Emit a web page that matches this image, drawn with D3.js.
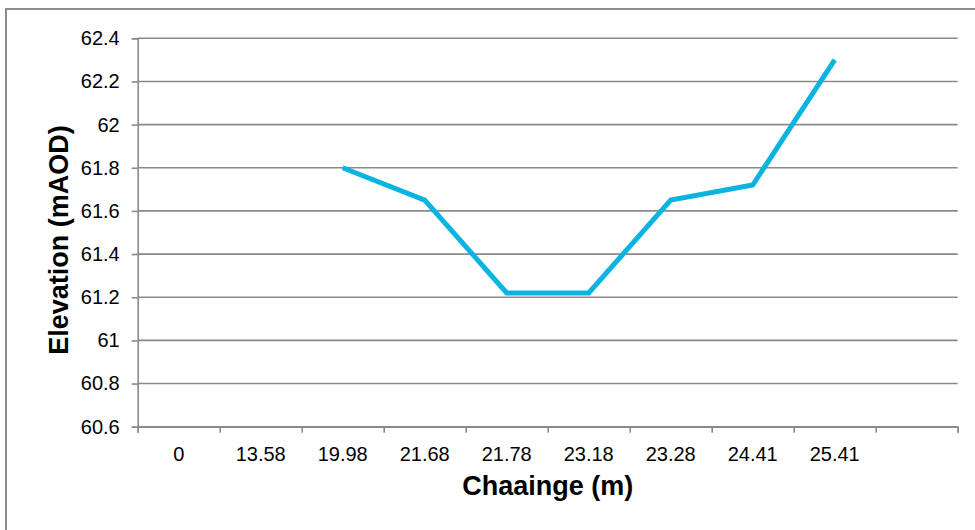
<!DOCTYPE html>
<html>
<head>
<meta charset="utf-8">
<script src="https://cdn.jsdelivr.net/npm/d3@7"></script>
<style>
  html, body { margin: 0; padding: 0; background: #fff; }
  svg { display: block; }
  text { font-family: "Liberation Sans", Arial, sans-serif; fill: #000; }
</style>
</head>
<body>
<svg id="chart" width="975" height="530"></svg>
<script>
// Cross-section survey: chainage labels and measured bed elevations
const chainages = ["0", "13.58", "19.98", "21.68", "21.78", "23.18", "23.28", "24.41", "25.41", ""];
const elevations = [null, null, 61.8, 61.65, 61.22, 61.22, 61.65, 61.72, 62.3, null];
const yTicks = [60.6, 60.8, 61, 61.2, 61.4, 61.6, 61.8, 62, 62.2, 62.4];

const svg = d3.select("#chart");
const plot = { left: 137.7, right: 957.7, top: 38.3, bottom: 426.7 };
const gridColor = "#8a8a8a";

// outer chart frame
svg.append("rect")
  .attr("x", 6).attr("y", 9)
  .attr("width", 1100).attr("height", 700)
  .attr("fill", "#fff")
  .attr("stroke", "#8c8c8c")
  .attr("stroke-width", 2);

const idx = d3.range(chainages.length);
const x = d3.scaleBand().domain(idx).range([plot.left, plot.right]).padding(0);
const xEdge = d3.scaleLinear().domain([0, chainages.length]).range([plot.left, plot.right]);
const y = d3.scaleLinear().domain([yTicks[0], yTicks[yTicks.length - 1]]).range([plot.bottom, plot.top]);

// horizontal gridlines
svg.append("g")
  .selectAll("line")
  .data(yTicks)
  .join("line")
  .attr("x1", plot.left).attr("x2", plot.right)
  .attr("y1", d => y(d)).attr("y2", d => y(d))
  .attr("stroke", gridColor)
  .attr("stroke-width", 1.6);

// y axis
const yAxis = svg.append("g")
  .attr("transform", `translate(${plot.left},0)`)
  .call(d3.axisLeft(y).tickValues(yTicks).tickSize(6).tickPadding(12)
    .tickFormat(d => String(+d.toFixed(1))));
yAxis.select(".domain").attr("stroke", gridColor).attr("stroke-width", 1.6);
yAxis.selectAll(".tick line").attr("stroke", gridColor).attr("stroke-width", 1.6);
yAxis.selectAll(".tick text")
  .attr("font-size", 20)
  .attr("font-family", "Liberation Sans, Arial, sans-serif")
  .attr("fill", "#000");

// x axis: ticks on category boundaries
const xTickAxis = svg.append("g")
  .attr("transform", `translate(0,${plot.bottom})`)
  .call(d3.axisBottom(xEdge).tickValues(d3.range(chainages.length + 1)).tickSize(6).tickFormat(""));
xTickAxis.select(".domain").attr("stroke", gridColor).attr("stroke-width", 1.6);
xTickAxis.selectAll(".tick line").attr("stroke", gridColor).attr("stroke-width", 1.6);

// x axis: category labels centred in each band
const xLabelAxis = svg.append("g")
  .attr("transform", `translate(0,${plot.bottom})`)
  .call(d3.axisBottom(x).tickSize(0).tickPadding(20).tickFormat(i => chainages[i]));
xLabelAxis.select(".domain").remove();
xLabelAxis.selectAll(".tick text")
  .attr("font-size", 20)
  .attr("font-family", "Liberation Sans, Arial, sans-serif")
  .attr("fill", "#000");

// elevation profile
const line = d3.line()
  .defined(d => d != null)
  .x((d, i) => x(i) + x.bandwidth() / 2)
  .y(d => y(d));

svg.append("path")
  .datum(elevations)
  .attr("d", line)
  .attr("fill", "none")
  .attr("stroke", "#0bb3e1")
  .attr("stroke-width", 5)
  .attr("stroke-linejoin", "miter");

// axis titles
svg.append("text")
  .attr("x", (plot.left + plot.right) / 2)
  .attr("y", 495)
  .attr("text-anchor", "middle")
  .attr("font-size", 27)
  .attr("font-weight", "bold")
  .text("Chaainge (m)");

svg.append("text")
  .attr("transform", "translate(68,240) rotate(-90)")
  .attr("text-anchor", "middle")
  .attr("font-size", 27)
  .attr("font-weight", "bold")
  .text("Elevation (mAOD)");
</script>
</body>
</html>
